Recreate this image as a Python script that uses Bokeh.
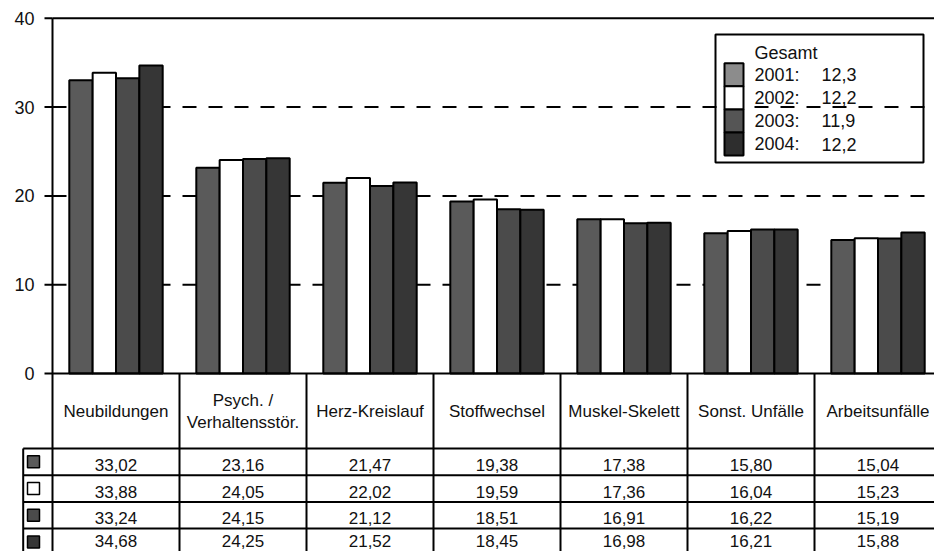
from bokeh.plotting import figure
from bokeh.models import Range1d
from bokeh.core.properties import value
from bokeh.embed import file_html
from bokeh.resources import INLINE

# ---------------- data ----------------
categories = ["Neubildungen", "Psych. /\nVerhaltensstör.", "Herz-Kreislauf", "Stoffwechsel",
              "Muskel-Skelett", "Sonst. Unfälle", "Arbeitsunfälle"]
years = ["2001", "2002", "2003", "2004"]
v2001 = [33.02, 23.16, 21.47, 19.38, 17.38, 15.80, 15.04]
v2002 = [33.88, 24.05, 22.02, 19.59, 17.36, 16.04, 15.23]
v2003 = [33.24, 24.15, 21.12, 18.51, 16.91, 16.22, 15.19]
v2004 = [34.68, 24.25, 21.52, 18.45, 16.98, 16.21, 15.88]
series = [v2001, v2002, v2003, v2004]
gesamt = ["12,3", "12,2", "11,9", "12,2"]
y_ticks = [0, 10, 20, 30, 40]

bar_colors = ["#5a5a5a", "#ffffff", "#4b4b4b", "#363636"]
legend_colors = ["#8c8c8c", "#ffffff", "#555555", "#2e2e2e"]

FONT = value("Liberation Sans")

# ---------------- layout helpers (screen px -> data) ----------------
AX = 52.0      # screen x of the value axis
CW = 127.0     # column width in px
Y0 = 373.0     # screen y of value 0
PPU = 8.88     # px per value unit
W, H = 934, 551
OX, OY = 0, 0  # bokeh page template has no body margin


def sx(px):
    return (px - AX) / CW - 0.5


def sy(py):
    return (Y0 - py) / PPU


p = figure(width=W, height=H, output_backend="svg", toolbar_location=None,
           x_range=Range1d(sx(OX), sx(OX + W)), y_range=Range1d(sy(OY + H), sy(OY)),
           min_border=0, outline_line_color=None)
p.axis.visible = False
p.grid.visible = False
p.background_fill_color = "white"

xl, xr = -0.5, sx(OX + W) + 0.2
ybot = sy(OY + H) - 1

# dashed gridlines
grid_y = [t for t in y_ticks if 0 < t < 40]
p.segment(x0=[xl] * len(grid_y), x1=[sx(925)] * len(grid_y), y0=grid_y, y1=grid_y,
          line_color="black", line_width=2, line_dash="14 12")

# legend box (unfilled; gridline shows through like in original)
p.quad(left=[sx(715)], right=[sx(923)], top=[sy(34)], bottom=[sy(162)],
       fill_color=None, line_color="black", line_width=2)

# bars
BW = 23.35 / CW
for j, vals in enumerate(series):
    xs = [i + (j - 1.5) * BW for i in range(len(categories))]
    p.vbar(x=xs, top=vals, bottom=0, width=BW, fill_color=bar_colors[j],
           line_color="black", line_width=2)

# value axis: line, ticks, labels
p.segment(x0=[xl], x1=[xl], y0=[40], y1=[ybot], line_color="black", line_width=2)
p.segment(x0=[sx(44)] * len(y_ticks), x1=[xl] * len(y_ticks), y0=y_ticks, y1=y_ticks,
          line_color="black", line_width=2)
p.segment(x0=[xl], x1=[xr], y0=[40], y1=[40], line_color="black", line_width=2)
p.segment(x0=[xl], x1=[xr], y0=[0], y1=[0], line_color="black", line_width=2)
p.text(x=[sx(34)] * len(y_ticks), y=y_ticks, text=[str(t) for t in y_ticks],
       text_align="right", text_baseline="middle", text_font=FONT,
       text_font_size="18px", text_color="#111111")

# data table
HDR_BOT = 448.0
ROW_H = 26.7
SW_L = 22.7
row_lines = [sy(HDR_BOT + ROW_H * k) for k in range(4)]
p.segment(x0=[sx(SW_L)] * 4, x1=[xr] * 4, y0=row_lines, y1=row_lines,
          line_color="black", line_width=2)
col_x = [i + 0.5 for i in range(len(categories))]
p.segment(x0=col_x, x1=col_x, y0=[0] * len(col_x), y1=[ybot] * len(col_x),
          line_color="black", line_width=2)
p.segment(x0=[sx(SW_L)], x1=[sx(SW_L)], y0=[sy(HDR_BOT)], y1=[ybot],
          line_color="black", line_width=2)

# header texts
p.text(x=list(range(len(categories))), y=[sy(411)] * len(categories), text=categories,
       text_align="center", text_baseline="middle", text_font=FONT,
       text_font_size="17px", text_color="#111111")

# rows (last row nudged up so its text stays inside the page)
text_off = [3, 3, 3, -1]
for j, vals in enumerate(series):
    yc = sy(HDR_BOT + ROW_H * (j + 0.5) + text_off[j])
    p.text(x=list(range(len(categories))), y=[yc] * len(categories),
           text=[f"{v:.2f}".replace(".", ",") for v in vals],
           text_align="center", text_baseline="middle", text_font=FONT,
           text_font_size="17px", text_color="#111111")
    p.scatter(x=[sx(33)], y=[sy(HDR_BOT + ROW_H * (j + 0.5))], marker="square", size=12,
              fill_color=bar_colors[j], line_color="black", line_width=1.5)

# legend content
p.text(x=[sx(754)], y=[sy(52)], text=["Gesamt"], text_align="left", text_baseline="middle",
       text_font=FONT, text_font_size="18px", text_color="#111111")
LSW_T = 62.7
LSW_H = 23.1
for j in range(len(years)):
    p.quad(left=[sx(724)], right=[sx(743)], top=[sy(LSW_T + LSW_H * j)],
           bottom=[sy(LSW_T + LSW_H * (j + 1))], fill_color=legend_colors[j],
           line_color="black", line_width=2)
    yc = sy(74 + 23.2 * j)
    p.text(x=[sx(754)], y=[yc], text=[years[j] + ":"], text_align="left",
           text_baseline="middle", text_font=FONT, text_font_size="18px", text_color="#111111")
    p.text(x=[sx(821)], y=[yc], text=[gesamt[j]], text_align="left",
           text_baseline="middle", text_font=FONT, text_font_size="18px", text_color="#111111")

open("out.html", "w").write(file_html(p, INLINE))
